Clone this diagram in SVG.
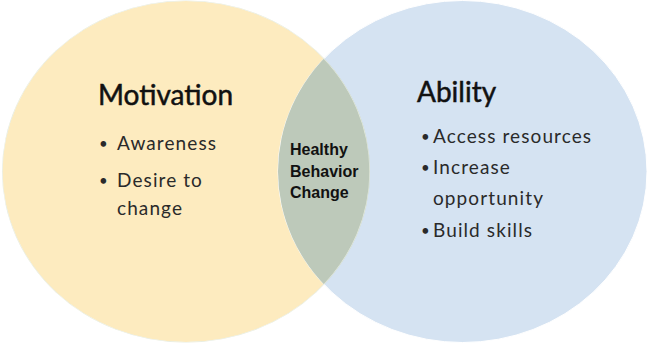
<svg xmlns="http://www.w3.org/2000/svg" width="648" height="343" viewBox="0 0 648 343">
  <style>
    .title { font-family: Lato, "Open Sans", sans-serif; font-size: 28px; fill: #111111; stroke: #111111; stroke-width: 0.5px; }
    .item { font-family: Lato, "Open Sans", sans-serif; font-size: 19px; fill: #2a2a2a; letter-spacing: 1.1px; }
    .dot { font-family: Lato, "Open Sans", sans-serif; font-size: 15px; fill: #2a2a2a; }
    .core { font-family: "Liberation Sans", Arial, sans-serif; font-size: 16px; font-weight: bold; fill: #111111; }
  </style>
  <defs>
    <clipPath id="clip-left">
      <ellipse cx="186" cy="171.5" rx="184" ry="171"/>
    </clipPath>
  </defs>
  <rect width="648" height="343" fill="#ffffff"/>

  <g id="motivation">
    <ellipse cx="186" cy="171.5" rx="184" ry="171" fill="#fdebbf" stroke="#ffffff" stroke-width="1"/>
    <text class="title" x="98" y="105">Motivation</text>
    <text class="dot" x="99" y="149">•</text>
    <text class="item" x="117" y="150">Awareness</text>
    <text class="dot" x="99" y="186">•</text>
    <text class="item" x="117" y="187">Desire to</text>
    <text class="item" x="117" y="215">change</text>
  </g>

  <g id="ability">
    <ellipse cx="462.5" cy="171.5" rx="184.5" ry="171" fill="#d5e3f2" stroke="#ffffff" stroke-width="1"/>
    <text class="title" x="417" y="102">Ability</text>
    <text class="dot" x="421" y="142">•</text>
    <text class="item" x="433" y="143">Access resources</text>
    <text class="dot" x="421" y="173">•</text>
    <text class="item" x="433" y="174">Increase</text>
    <text class="item" x="433" y="205">opportunity</text>
    <text class="dot" x="421" y="236">•</text>
    <text class="item" x="433" y="237">Build skills</text>
  </g>

  <g id="overlap">
    <ellipse cx="462.5" cy="171.5" rx="184.5" ry="171" fill="#bdc9ba" clip-path="url(#clip-left)"/>
    <ellipse cx="186" cy="171.5" rx="184" ry="171" fill="none" stroke="#e6ecdf" stroke-width="1.2" clip-path="url(#clip-left)"/>
    <text class="core" x="290" y="155">Healthy</text>
    <text class="core" x="290" y="177">Behavior</text>
    <text class="core" x="290" y="198">Change</text>
  </g>

  <g id="connectors"/>
</svg>
